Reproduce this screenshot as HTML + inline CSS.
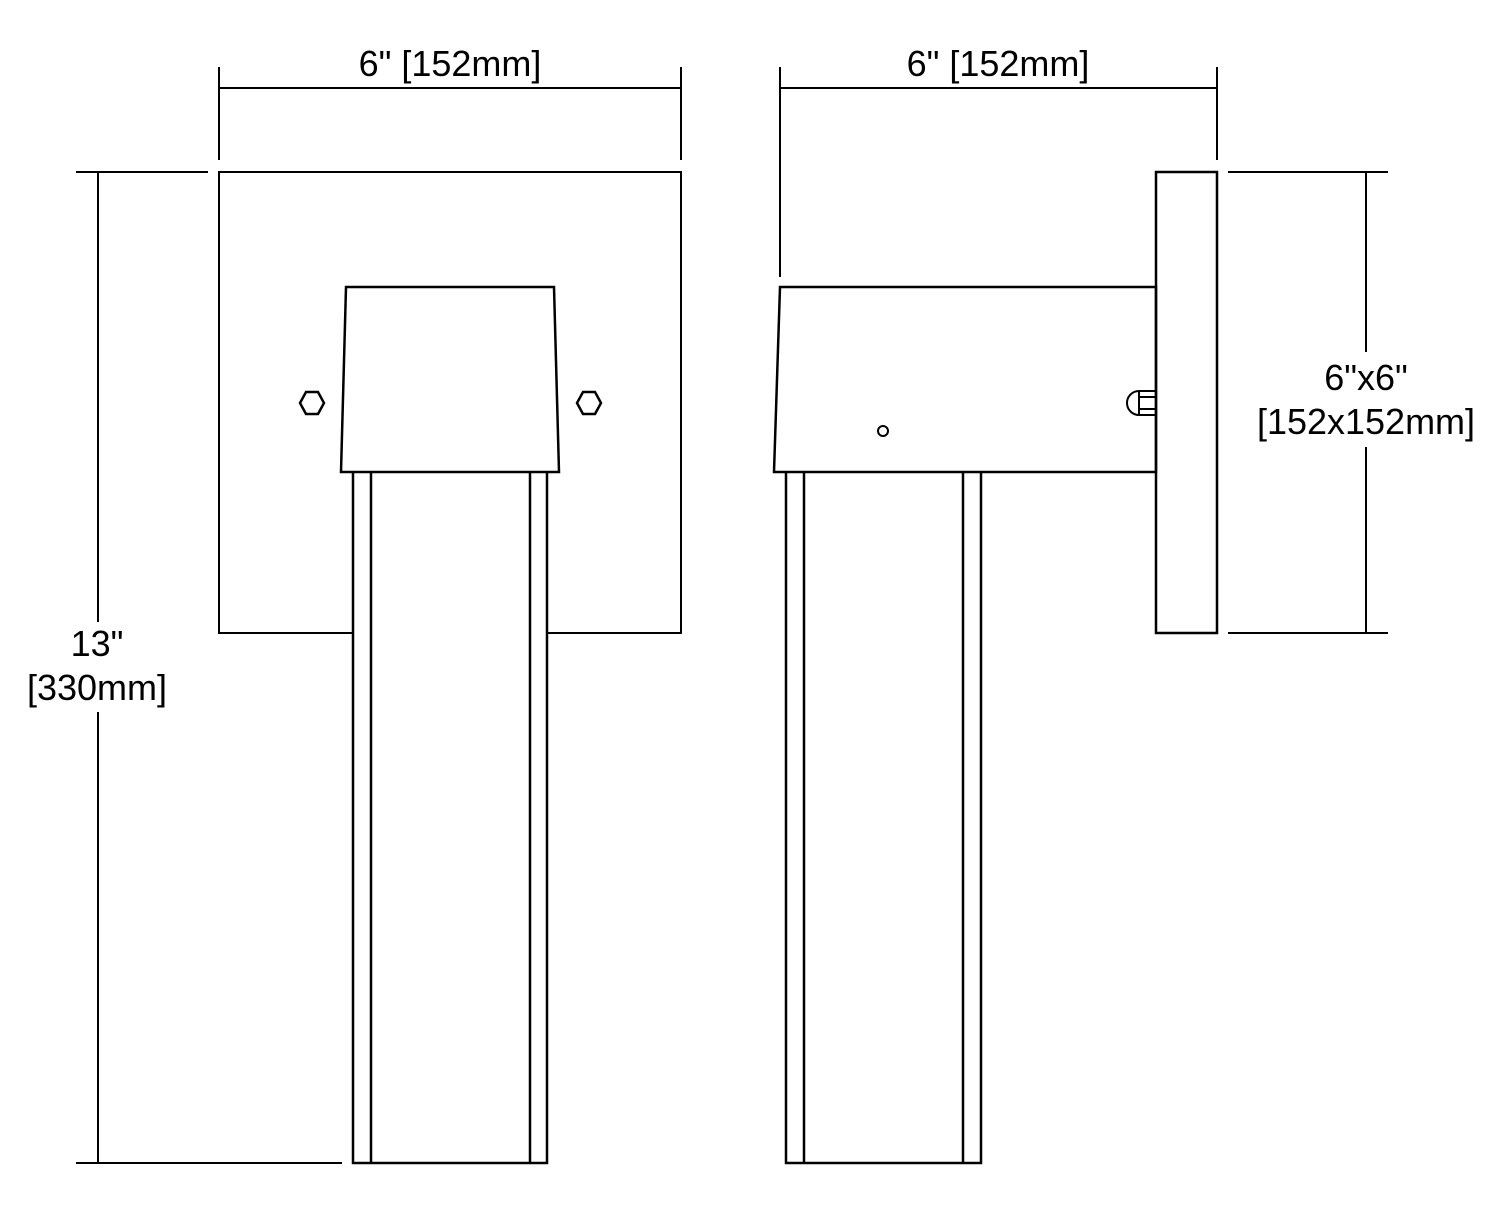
<!DOCTYPE html>
<html><head><meta charset="utf-8"><style>html,body{margin:0;padding:0;background:#fff}svg{display:block}</style></head>
<body>
<svg width="1500" height="1215" viewBox="0 0 1500 1215" xmlns="http://www.w3.org/2000/svg" font-family="Liberation Sans, sans-serif" font-size="36" fill="none" stroke="#000" stroke-width="2">
<!-- Left view -->
<path d="M219 67V160M681 67V160M219 88H681"/>
<path d="M353 633H219V172H681V633H547"/>
<path d="M346 287H554L559 472H341Z" stroke-width="2.5"/>
<path d="M353 472V1163H547V472M371 472V1163M530 472V1163" stroke-width="2.5"/>
<polygon points="306,392 318,392 324,403 318,414 306,414 300,403" stroke-width="2.5"/>
<polygon points="583,392 595,392 601,403 595,414 583,414 577,403" stroke-width="2.5"/>
<path d="M76 172H208M76 1163H342M98 172V622M98 712V1163"/>
<!-- Right view -->
<path d="M780 67V277M1217 67V160M780 88H1217"/>
<path d="M1156 172H1217V633H1156Z" stroke-width="2.5"/>
<path d="M780 287H1156V472H774Z" stroke-width="2.5"/>
<path d="M786 472V1163H981V472M804 472V1163M963 472V1163" stroke-width="2.5"/>
<circle cx="883" cy="431" r="5"/>
<path d="M1156 391H1139A12 12 0 0 0 1139 415H1156M1139 391V415M1139 397H1156M1139 409H1156"/>
<path d="M1228 172H1388M1228 633H1388M1366 172V352M1366 447V633"/>
<g fill="#000" stroke="none" text-anchor="middle">
<text x="450" y="76">6" [152mm]</text>
<text x="998" y="76">6" [152mm]</text>
<text x="97" y="656">13"</text>
<text x="97" y="700">[330mm]</text>
<text x="1366" y="390">6"x6"</text>
<text x="1366" y="434">[152x152mm]</text>
</g>
</svg>
</body></html>
